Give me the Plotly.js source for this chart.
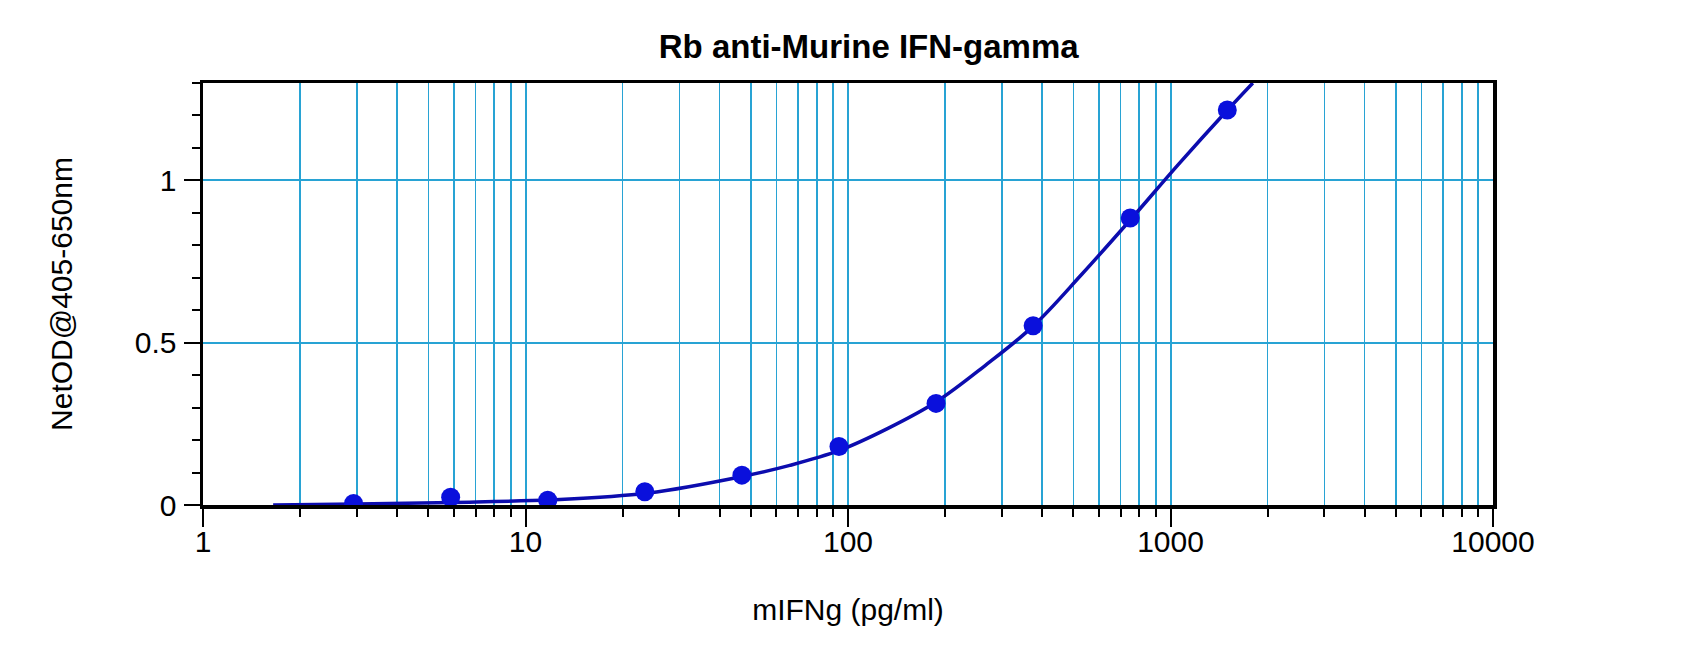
<!DOCTYPE html>
<html>
<head>
<meta charset="utf-8">
<script src="https://cdn.plot.ly/plotly-3.0.1.min.js"></script>
<style>
  html, body { margin: 0; padding: 0; background: #fff; }
  #chart { width: 1700px; height: 651px; }
</style>
</head>
<body>
<div id="chart"></div>
<script>
// standards (pg/ml) and their net OD
var concentrations = [2.93, 5.86, 11.72, 23.44, 46.88, 93.75, 187.5, 375, 750, 1500];
var netOD = [0.005, 0.024, 0.015, 0.041, 0.092, 0.180, 0.313, 0.552, 0.884, 1.217];

// fitted curve
var curveX = [1.65, 3, 6, 12, 24, 47, 66, 94, 133, 188, 265, 375, 530, 750, 1060, 1500, 1800];
var curveY = [0.0, 0.003, 0.008, 0.016, 0.037, 0.088, 0.122, 0.168, 0.236, 0.318, 0.428, 0.551, 0.71, 0.878, 1.05, 1.216, 1.3];

var xTickVals = [1, 10, 100, 1000, 10000];
var xTickText = ['1', '10', '100', '1000', '10000'];
var yTickVals = [0, 0.5, 1];
var yTickText = ['0', '0.5', '1'];

var gridColor = '#28a3d4';
var fontFamily = '"Liberation Sans", Arial, sans-serif';

var plot_data = [
    {
        x: curveX,
        y: curveY,
        mode: 'lines',
        line: { color: '#0c0cae', width: 3.5, shape: 'spline', smoothing: 1 },
        hoverinfo: 'skip'
    },
    {
        x: concentrations,
        y: netOD,
        mode: 'markers',
        marker: { color: '#0a10dc', size: 19 }
    }
];

var layout = {
    width: 1700,
    height: 651,
    margin: { l: 203, r: 207, t: 83, b: 146 },
    paper_bgcolor: '#fff',
    plot_bgcolor: '#fff',
    showlegend: false,
    font: { family: fontFamily, color: '#000', size: 30 },
    title: {
        text: '<b>Rb anti-Murine IFN-gamma</b>',
        font: { family: fontFamily, size: 33, color: '#000' },
        xref: 'container', x: 0.511, xanchor: 'center',
        yref: 'container', y: 0.928, yanchor: 'middle'
    },
    xaxis: {
        type: 'log',
        range: [0, 4],
        tickvals: xTickVals,
        ticktext: xTickText,
        ticks: 'outside',
        ticklen: 18,
        tickwidth: 2,
        tickcolor: '#000',
        tickfont: { size: 30 },
        ticklabelstandoff: -11,
        showgrid: true,
        gridcolor: gridColor,
        gridwidth: 2,
        minor: {
            dtick: 'D1',
            ticks: 'outside',
            ticklen: 8,
            tickwidth: 2,
            tickcolor: '#000',
            showgrid: true,
            gridcolor: gridColor,
            gridwidth: 1.6
        },
        showline: true,
        linecolor: '#000',
        linewidth: 3.5,
        mirror: true,
        zeroline: false,
        title: { text: 'mIFNg (pg/ml)', font: { size: 30 }, standoff: 43 }
    },
    yaxis: {
        range: [0, 1.3],
        tickvals: yTickVals,
        ticktext: yTickText,
        ticks: 'outside',
        ticklen: 16,
        tickwidth: 2,
        tickcolor: '#000',
        tickfont: { size: 30 },
        ticklabelstandoff: 1,
        showgrid: true,
        gridcolor: gridColor,
        gridwidth: 2,
        minor: {
            dtick: 0.1,
            ticks: 'outside',
            ticklen: 8,
            tickwidth: 2,
            tickcolor: '#000',
            showgrid: false
        },
        showline: true,
        linecolor: '#000',
        linewidth: 3.5,
        mirror: true,
        zeroline: false,
        title: { text: 'NetOD@405-650nm', font: { size: 30 }, standoff: 54 }
    }
};

var config = { staticPlot: true };
Plotly.newPlot(document.getElementById('chart'), plot_data, layout, config);
</script>
</body>
</html>
